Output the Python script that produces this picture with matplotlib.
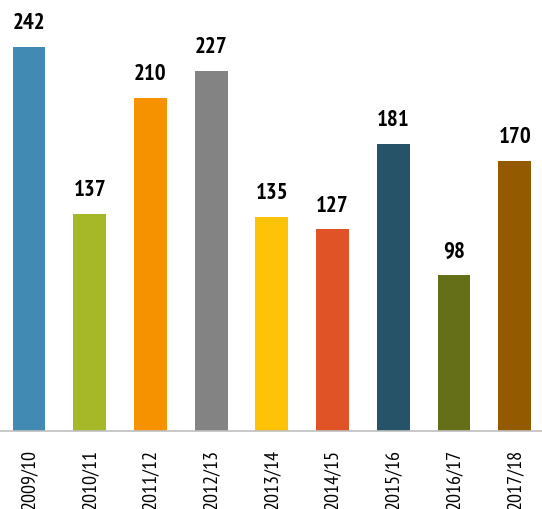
import matplotlib
matplotlib.use('Agg')
import matplotlib.pyplot as plt
from matplotlib import font_manager

# data
years = ['2009/10', '2010/11', '2011/12', '2012/13', '2013/14',
         '2014/15', '2015/16', '2016/17', '2017/18']
values = [242, 137, 210, 227, 135, 127, 181, 98, 170]
colors = ['#418AB3', '#A6B727', '#F69200', '#838383', '#FEC306',
          '#DF5327', '#265368', '#656F17', '#945A00']

# pick a condensed face close to the original
names = {f.name for f in font_manager.fontManager.ttflist}
fam = 'DejaVu Sans'
for cand in ['PT Sans Narrow', 'Open Sans Condensed', 'Fira Sans Condensed',
             'Asap Condensed', 'Barlow Condensed', 'Archivo Narrow']:
    if cand in names:
        fam = cand
        break

fig = plt.figure(figsize=(5.42, 5.10), dpi=100)
ax = fig.add_axes([0, 78 / 510, 1, 432 / 510])

x = range(len(values))
ax.bar(x, values, width=0.54, color=colors)

for xi, v in zip(x, values):
    ax.annotate(str(v), (xi, v), xytext=(0, 10), textcoords='offset points',
                ha='center', va='bottom', fontsize=16.5, fontweight='bold',
                family=fam)

ax.set_xlim(-0.478, 8.45)
ax.set_ylim(0, 272.2)
ax.set_xticks(list(x))
ax.set_xticklabels(years, rotation=90, fontsize=14.5, family=fam)
ax.tick_params(axis='x', length=0, pad=12)
ax.set_yticks([])
for s in ['top', 'left', 'right']:
    ax.spines[s].set_visible(False)
ax.spines['bottom'].set_color('#BFBFBF')
ax.spines['bottom'].set_linewidth(1.2)

fig.savefig('out.png', dpi=100)
